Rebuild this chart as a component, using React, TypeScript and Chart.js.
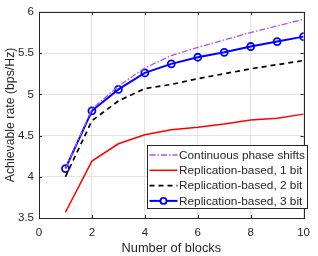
import React, { useEffect, useRef } from "react";
import { Chart, registerables } from "chart.js";

Chart.register(...registerables);

const blocks = [1, 2, 3, 4, 5, 6, 7, 8, 9, 10];
const continuous = [4.1, 4.82, 5.1, 5.32, 5.47, 5.57, 5.66, 5.75, 5.83, 5.91];
const bit1 = [3.57, 4.19, 4.4, 4.51, 4.57, 4.6, 4.64, 4.69, 4.71, 4.76];
const bit2 = [4.0, 4.68, 4.92, 5.07, 5.12, 5.19, 5.25, 5.31, 5.36, 5.41];
const bit3 = [4.1, 4.8, 5.06, 5.26, 5.37, 5.45, 5.51, 5.58, 5.64, 5.7];
const labels = [
  "Continuous phase shifts",
  "Replication-based, 1 bit",
  "Replication-based, 2 bit",
  "Replication-based, 3 bit",
];
const FONT = "'Liberation Sans', Arial, sans-serif";
const TXT = "#262626";

const pts = (ys: number[]) => blocks.map((x, i) => ({ x, y: ys[i] }));

const frameLegend = {
  id: "frameLegend",
  afterDraw(chart: any) {
    const { ctx, chartArea: a } = chart;
    ctx.save();
    ctx.strokeStyle = TXT;
    ctx.lineWidth = 1;
    ctx.strokeRect(Math.round(a.left) + 0.5, Math.round(a.top) + 0.5, Math.round(a.right - a.left), Math.round(a.bottom - a.top));
    const xs = chart.scales.x, ys = chart.scales.y;
    ctx.beginPath();
    for (let v = 0; v <= 10; v += 2) {
      const px = Math.round(xs.getPixelForValue(v)) + 0.5;
      ctx.moveTo(px, a.bottom); ctx.lineTo(px, a.bottom - 3);
      ctx.moveTo(px, a.top); ctx.lineTo(px, a.top + 3);
    }
    for (let v = 3.5; v <= 6.001; v += 0.5) {
      const py = Math.round(ys.getPixelForValue(v)) + 0.5;
      ctx.moveTo(a.left, py); ctx.lineTo(a.left + 3, py);
      ctx.moveTo(a.right, py); ctx.lineTo(a.right - 3, py);
    }
    ctx.stroke();
    // legend
    const lx = 147.5, ly = 145.5, lw = 160, lh = 63;
    ctx.fillStyle = "#ffffff";
    ctx.fillRect(lx, ly, lw, lh);
    ctx.strokeStyle = TXT;
    ctx.strokeRect(lx, ly, lw, lh);
    ctx.font = `11.8px ${FONT}`;
    ctx.textBaseline = "middle";
    ctx.textAlign = "left";
    chart.data.datasets.forEach((ds: any, i: number) => {
      const y = ly + 9.5 + i * 15.3;
      ctx.save();
      ctx.strokeStyle = ds.borderColor;
      ctx.lineWidth = ds.borderWidth;
      ctx.setLineDash(ds.borderDash || []);
      ctx.beginPath();
      ctx.moveTo(lx + 2, y);
      ctx.lineTo(lx + 30, y);
      ctx.stroke();
      if (ds.pointRadius > 0) {
        ctx.setLineDash([]);
        ctx.lineWidth = ds.pointBorderWidth;
        ctx.beginPath();
        ctx.arc(lx + 16, y, ds.pointRadius - 0.5, 0, Math.PI * 2);
        ctx.fillStyle = "#fff";
        ctx.fill();
        ctx.stroke();
      }
      ctx.restore();
      ctx.fillStyle = TXT;
      ctx.fillText(ds.label, lx + 31.5, y + 0.5);
    });
    ctx.restore();
  },
};

export default function App() {
  const ref = useRef<HTMLCanvasElement>(null);
  useEffect(() => {
    const chart = new Chart(ref.current!, {
      type: "line",
      data: {
        datasets: [
          {
            label: labels[0], data: pts(continuous), borderColor: "#b24cff", borderWidth: 1.3,
            borderDash: [6, 2, 1.5, 2], pointRadius: 0, tension: 0,
          },
          {
            label: labels[1], data: pts(bit1), borderColor: "#ff0000", borderWidth: 1.5,
            pointRadius: 0, tension: 0,
          },
          {
            label: labels[2], data: pts(bit2), borderColor: "#000000", borderWidth: 1.7,
            borderDash: [5, 4], pointRadius: 0, tension: 0,
          },
          {
            label: labels[3], data: pts(bit3), borderColor: "#0000ff", borderWidth: 2,
            pointRadius: 3.5, pointBorderWidth: 1.8, pointBackgroundColor: "rgba(255,255,255,0)",
            pointBorderColor: "#0000ff", tension: 0,
          },
        ],
      },
      options: {
        animation: false,
        responsive: false,
        layout: { padding: { top: 7, right: 10, left: 0, bottom: 0 } },
        plugins: { legend: { display: false }, tooltip: { enabled: false } },
        scales: {
          x: {
            type: "linear", min: 0, max: 10,
            ticks: { stepSize: 2, color: TXT, font: { family: FONT, size: 11.5 }, padding: 8, maxRotation: 0 },
            grid: { color: "#e3e3e3", drawTicks: false },
            border: { display: false },
            title: { display: true, text: "Number of blocks", color: TXT, font: { family: FONT, size: 12.8 }, padding: { top: 2, bottom: 0 } },
            afterFit: (s: any) => { s.height = 38; },
          },
          y: {
            type: "linear", min: 3.5, max: 6,
            ticks: {
              stepSize: 0.5, color: TXT, font: { family: FONT, size: 11.5 }, padding: 5,
              callback: (v: any) => String(Number(v)),
            },
            grid: { color: "#e3e3e3", drawTicks: false },
            border: { display: false },
            title: { display: true, text: "Achievable rate (bps/Hz)", color: TXT, font: { family: FONT, size: 12.3 }, padding: { top: 3, bottom: 0 } },
            afterFit: (s: any) => { s.width = 39; },
          },
        },
      },
      plugins: [frameLegend],
    });
    return () => chart.destroy();
  }, []);
  return (
    <div style={{ position: "absolute", left: 0, top: 0, width: 318, height: 256, background: "#fff" }}>
      <canvas ref={ref} width={318} height={256} style={{ display: "block" }} />
    </div>
  );
}
